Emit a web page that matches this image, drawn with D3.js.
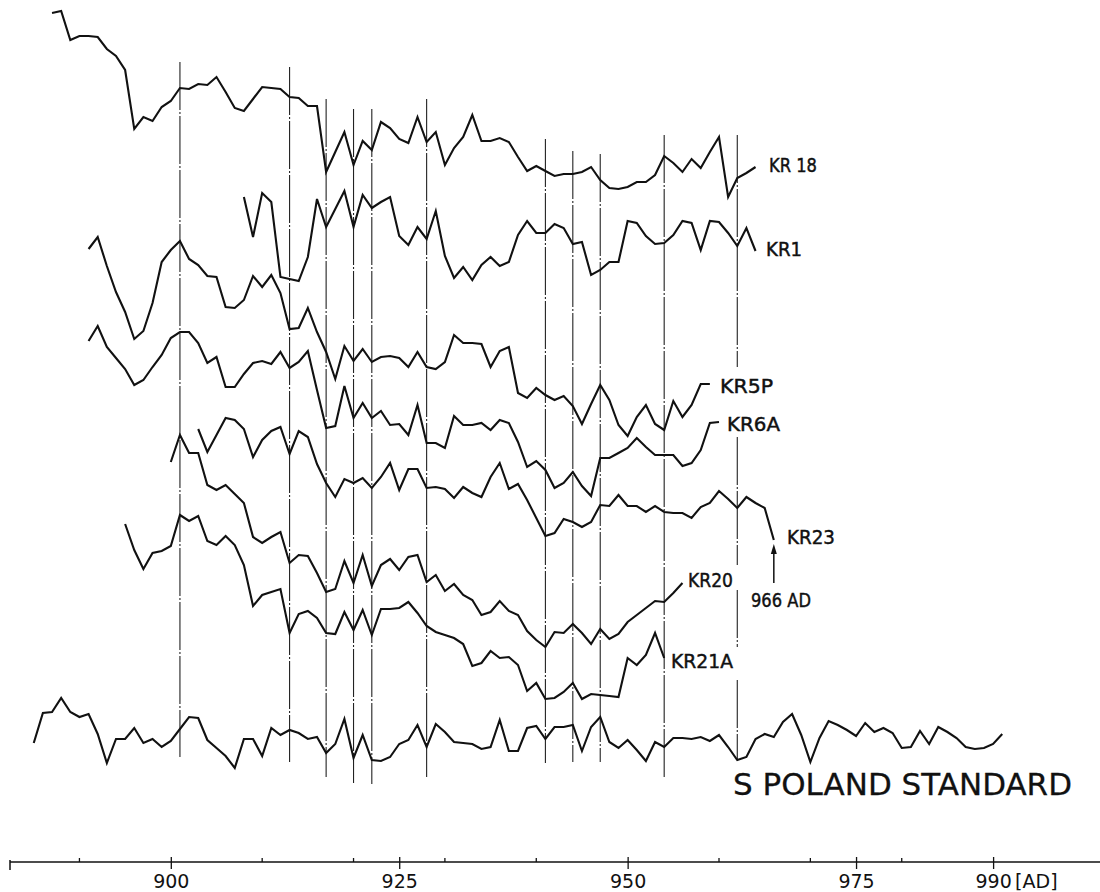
<!DOCTYPE html>
<html>
<head>
<meta charset="utf-8">
<script src="https://cdn.jsdelivr.net/npm/d3@7"></script>
<style>
  body { margin: 0; background: #fff; }
  text { font-family: 'DejaVu Sans', sans-serif; fill: #111; }
</style>
</head>
<body>
<svg id="chart" width="1100" height="892"></svg>
<script>
'use strict';

// ring-width index per calendar year (first value = start year)
var kr18Start = 887;
var kr18 = [187,189,160,164,164,163,151,144,130,71, 83,79,93,99,112,111,116,115,123,108,
            92,89,101,113,112,111,103,102,94,94, 28,48,68,35,59,50,78,72,61,57,
            83,58,68,35,52,63,85,59,59,62, 58,43,29,34,29,24,26,26,28,33,
            20,12,11,13,18,18,25,44,37,28, 41,32,48,63,3,22,27,33];

var kr1Start = 908;
var kr1 = [103,63,107,98,23,21,19,43,101,73, 91,109,73,105,92,98,103,64,55,73,
           61,89,44,22,33,20,35,43,34,38, 65,79,67,67,76,72,56,58,25,30,
           38,38,79,77,64,56,57,65,79,77, 50,79,78,67,54,72,49];

var kr5pStart = 891;
var kr5p = [201,213,184,158,138,111,119,147,188,200, 209,191,185,174,173,143,142,150,174,163,
            175,157,121,122,142,118,98,71,104,89, 101,88,93,94,92,83,98,83,81,88,
            115,107,107,106,83,99,103,57,52,62, 55,50,54,44,26,46,65,50,25,14,
            33,45,26,20,49,33,45,66,66];

var kr6aStart = 891;
var kr6a = [159,174,153,142,131,115,120,133,145,162, 168,168,157,137,143,113,113,126,137,139,
            136,148,132,138,149,110,72,74,114,82, 97,82,89,75,76,65,95,57,57,52,
            84,75,75,77,70,80,77,58,33,39, 30,12,17,28,14,4,42,42,47,52,
            62,53,45,45,45,34,37,50,77,78];

var kr23Start = 903;
var kr23 = [121,98,115,132,130,121,93,110,119,123, 96,119,113,86,67,53,71,67,72,62,
            73,87,60,81,81,62,63,61,52,63, 57,53,73,87,61,66,50,32,14,17,
            31,28,23,28,45,44,55,44,44,38, 44,38,37,37,32,43,47,59,51,42,
            53,47,42,10];

var kr20Start = 900;
var kr20 = [188,215,197,197,165,160,165,156,147,113, 107,113,118,87,95,94,77,58,61,89,
            67,95,64,85,91,80,93,95,68,75, 59,66,55,50,35,38,49,39,35,19,
            10,3,18,17,26,17,6,21,11,16, 28,35,42,49,48,57,67];

var kr21aStart = 895;
var kr21a = [176,150,131,147,149,154,185,179,184,159, 155,164,155,135,94,105,108,111,67,86,
             89,82,67,66,88,70,90,65,91,91, 92,98,87,74,68,65,62,56,34,37,
             49,42,43,35,9,17,1,2,8,17, 1,6,5,4,3,42,35,45,67,42];

var standardStart = 885;
var standard = [37,67,68,82,68,63,66,46,17,41, 41,52,37,41,33,39,51,63,62,40,
                32,24,12,41,41,24,52,45,50,47, 41,43,27,36,61,22,45,20,19,23,
                36,40,55,33,56,48,38,37,36,31, 33,60,29,29,52,54,41,53,53,55,
                29,53,63,38,32,40,30,19,38,33, 42,42,41,43,39,45,33,20,23,41,
                46,43,58,66,45,18,42,59,55,50, 44,57,48,52,47,32,33,49,36,53,
                48,42,33,31,32,36,46];

// pointer years marked by the vertical lines
var pointerYears = [901, 913, 917, 920, 922, 928, 941, 944, 947, 954, 962];

// axis ticks
var majorTicks = [900, 925, 950, 975, 990];
var minorTicks = [890, 910, 920, 930, 940, 960, 970, 980];

var felledYear = 966;

// ---- layout (positions only) ----
var series = [
  { name: 'KR 18', start: kr18Start, values: kr18,  base: 200, lx: 769, ly: 172 },
  { name: 'KR1',   start: kr1Start,  values: kr1,   base: 300, lx: 766, ly: 256 },
  { name: 'KR5P',  start: kr5pStart, values: kr5p,  base: 450, lx: 720, ly: 393 },
  { name: 'KR6A',  start: kr6aStart, values: kr6a,  base: 500, lx: 727, ly: 431 },
  { name: 'KR23',  start: kr23Start, values: kr23,  base: 550, lx: 787, ly: 544 },
  { name: 'KR20',  start: kr20Start, values: kr20,  base: 650, lx: 688, ly: 587 },
  { name: 'KR21A', start: kr21aStart, values: kr21a, base: 700, lx: 671, ly: 668 },
  { name: 'S POLAND STANDARD', start: standardStart, values: standard, base: 780, lx: 733, ly: 795 }
];
var labelWidth = { 'KR 18': 48, 'KR1': 36, 'KR5P': 53, 'KR6A': 53, 'KR23': 48, 'KR20': 45, 'KR21A': 62, 'S POLAND STANDARD': 339 };

var lineTop    = [62, 67, 99, 109, 109, 99, 139, 151, 154, 135, 135];
var lineBottom = [757, 762, 777, 783, 784, 777, 763, 762, 762, 779, 760];
var lineGaps = { 962: [[367, 437], [565, 590], [647, 680]] };

var axisY = 862;

var svg = d3.select('#chart');

var x = d3.scaleLinear().domain([882.4, 1001.7]).range([10, 1100]);
var y = d3.scaleLinear().domain([0, 100]).range([0, -100]);

// vertical pointer-year lines
var vlines = svg.append('g').attr('class', 'pointers');
pointerYears.forEach(function (yr, i) {
  var top = lineTop[i], bottom = lineBottom[i];
  var cuts = (lineGaps[yr] || []).slice();
  var segs = [];
  var from = top;
  cuts.forEach(function (c) { segs.push([from, c[0]]); from = c[1]; });
  segs.push([from, bottom]);
  segs.forEach(function (s) {
    vlines.append('line')
      .attr('x1', x(yr)).attr('x2', x(yr))
      .attr('y1', s[0]).attr('y2', s[1])
      .attr('stroke', '#222').attr('stroke-width', 1.1)
      .attr('stroke-dasharray', '48,2,2,2');
  });
});

// ring-width curves
var line = d3.line()
  .x(function (d) { return x(d.year); })
  .y(function (d) { return y(d.value); });

var groups = svg.selectAll('.curve')
  .data(series)
  .enter().append('g')
  .attr('class', 'curve')
  .attr('transform', function (d) { return 'translate(0,' + d.base + ')'; });

groups.append('path')
  .attr('d', function (d) {
    return line(d.values.map(function (v, i) { return { year: d.start + i, value: v }; }));
  })
  .attr('fill', 'none')
  .attr('stroke', '#111')
  .attr('stroke-width', 2.1);

// labels
svg.selectAll('.lbl')
  .data(series)
  .enter().append('text')
  .attr('class', 'lbl')
  .attr('x', function (d) { return d.lx; })
  .attr('y', function (d) { return d.ly; })
  .attr('font-size', function (d) { return d.name === 'S POLAND STANDARD' ? 31 : 19; })
  .attr('stroke', '#111')
  .attr('stroke-width', function (d) { return d.name === 'S POLAND STANDARD' ? 0.3 : 0.45; })
  .attr('textLength', function (d) { return labelWidth[d.name]; })
  .attr('lengthAdjust', 'spacingAndGlyphs')
  .text(function (d) { return d.name; });

// felling date arrow
svg.append('line')
  .attr('x1', x(felledYear)).attr('x2', x(felledYear))
  .attr('y1', 583).attr('y2', 552)
  .attr('stroke', '#111').attr('stroke-width', 1.5);
svg.append('path')
  .attr('d', 'M' + x(felledYear) + ',544 l-3,10 l6,0 z')
  .attr('fill', '#111');
svg.append('text')
  .attr('x', 751).attr('y', 607)
  .attr('font-size', 19)
  .attr('stroke', '#111').attr('stroke-width', 0.45)
  .attr('textLength', 60).attr('lengthAdjust', 'spacingAndGlyphs')
  .text(felledYear + ' AD');

// time axis
var axis = svg.append('g').attr('transform', 'translate(0,' + axisY + ')');
axis.append('line')
  .attr('x1', x.range()[0]).attr('x2', x.range()[1])
  .attr('y1', 0).attr('y2', 0)
  .attr('stroke', '#111').attr('stroke-width', 1.5);
axis.append('line')
  .attr('x1', x.range()[0]).attr('x2', x.range()[0])
  .attr('y1', -2).attr('y2', 8)
  .attr('stroke', '#111').attr('stroke-width', 1.5);

axis.selectAll('.minor')
  .data(minorTicks)
  .enter().append('line')
  .attr('class', 'minor')
  .attr('x1', x).attr('x2', x)
  .attr('y1', -4).attr('y2', 0)
  .attr('stroke', '#111').attr('stroke-width', 1.3);

var bottomAxis = d3.axisBottom(x)
  .tickValues(majorTicks)
  .tickSize(7)
  .tickSizeOuter(0)
  .tickFormat(d3.format('d'));
var ax = axis.append('g').call(bottomAxis);
ax.select('.domain').remove();
ax.selectAll('.tick line').attr('y1', -5).attr('stroke', '#111').attr('stroke-width', 1.3);
ax.selectAll('.tick text')
  .attr('y', 13)
  .attr('dy', '0.71em')
  .attr('font-size', 19)
  .attr('font-family', "'DejaVu Sans Condensed', 'DejaVu Sans', sans-serif")
  .attr('fill', '#111');

axis.append('text')
  .attr('x', x(990) + 22).attr('y', 13)
  .attr('dy', '0.71em')
  .attr('font-size', 19)
  .attr('font-family', "'DejaVu Sans Condensed', 'DejaVu Sans', sans-serif")
  .text('[AD]');
</script>
</body>
</html>
